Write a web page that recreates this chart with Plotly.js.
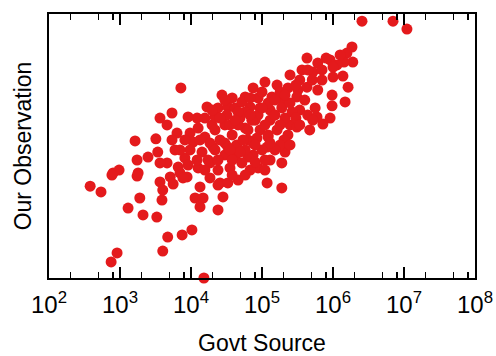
<!DOCTYPE html>
<html>
<head>
<meta charset="utf-8">
<script src="https://cdn.plot.ly/plotly-3.0.1.min.js"></script>
<style>html,body{margin:0;padding:0;background:#fff;}#chart{width:496px;height:356px;}</style>
</head>
<body>
<div id="chart"></div>
<script>
// Govt Source (x, log scale) vs Our Observation (y, arbitrary units 0-100)
const govtSource = [
  2.56e6, 7.0e6, 8.8e6, 1.1e7, 1.85e6, 1.57e6, 1.9e6, 1.43e6, 1.14e6, 9.1e5,
  1.0e6, 8.0e5, 6.1e5, 4.3e5, 5.2e5, 3.66e5, 2.48e5, 4.4e5, 7.0e5, 1.0e6,
  1.38e6, 1.63e6, 1.48e6, 9.7e5, 9.7e5, 9.1e5, 7.2e5, 1.1e5, 1.63e5, 2.32e5,
  7.5e4, 3.2e5, 4.3e5, 8.8e4, 1.38e5, 1.98e5, 3.1e5, 4.0e5, 9.4e4, 1.3e5,
  1.9e5, 3.4e5, 4.4e5, 5.95e5, 5.2e5, 8.0e4, 1.3e5, 2.48e5, 3.1e5, 9.4e4,
  1.63e5, 1.22e5, 8.5e4, 2.32e5, 1.18e5, 7.5e4, 2.11e5, 1.3e5, 1.9e5, 8.8e4,
  1.18e5, 1.9e5, 7.5e4, 2.04e5, 7.2e3, 5.8e4, 3.8e4, 2.4e4, 1.68e4, 3.3e4,
  6.8e4, 1.22e4, 9.1e3, 5.4e3, 3.66e3, 4.6e3, 6.35e3, 9.7e3, 1.07e4, 1.57e4,
  1.98e4, 2.18e4, 3.2e4, 4.9e4, 5.8e4, 5.4e3, 5.95e3, 8.2e3, 1.43e4, 2.04e4,
  2.56e4, 3.8e4, 4.4e4, 6.35e4, 3.0e4, 4.2e4, 6.35e4, 4.6e3, 6.6e3, 1.26e4,
  1.74e4, 2.4e4, 3.54e4, 5.2e4, 6.8e4, 5.1e3, 8.8e3, 1.63e3, 3.2e3, 1.74e3,
  2.48e3, 3.4e3, 8.0e2, 9.7e2, 1.8e3, 3.66e3, 3.0e4, 5.8e4, 1.22e5, 1.85e4,
  7.0e3, 1.34e4, 2.56e4, 3.3e4, 4.6e4, 1.14e4, 1.48e4, 2.82e4, 2.4e4, 3.8e2,
  5.4e2, 7.7e2, 1.74e3, 1.9e3, 1.3e3, 2.11e3, 3.3e3, 3.9e3, 4.0e3, 3.66e3,
  5.6e3, 7.7e3, 4.7e3, 7.5e3, 1.03e4, 4.0e3, 9.1e2, 7.5e2, 1.52e4, 2.4e4,
  1.34e4, 2.18e4, 3.0e4, 4.6e4, 5.8e4, 8.8e4, 4.2e4, 5.2e4, 1.1e5, 1.52e5,
  2.11e5, 2.65e5, 1.8e5, 1.0e5, 1.52e5, 4.9e4, 3.3e4, 1.26e4, 8.2e3, 1.85e4,
  2.4e4, 8.0e4, 2.48e5, 3.0e5, 5.6e5, 3.4e5, 1.8e5, 1.0e5, 6.8e4, 1.22e5,
  2.48e5, 3.54e4, 2.56e4, 1.57e4, 9.7e3, 1.22e4, 3.8e4, 5.8e4, 1.85e4, 6.35e4,
  2.73e4, 4.6e4, 7.2e4, 1.0e5, 1.52e5, 2.11e5, 3.0e5, 5.1e5, 6.1e5, 7.0e5,
  1.26e6, 3.54e4, 8.0e4, 1.1e5, 5.4e4, 3.8e4, 1.57e4, 2.18e4, 9.1e3, 7.0e3,
  1.34e4, 1.98e4, 3.0e4, 1.8e5, 3.4e5, 4.7e5, 1.1e5, 1.3e5, 6.8e4, 4.2e4
];
const ourObservation = [
  97.3, 97.3, 100.4, 94.3, 87.5, 85.2, 81.8, 81.8, 80.7, 82.6,
  79.9, 83.3, 81.4, 83.3, 78.0, 78.8, 76.9, 78.8, 75.0, 76.1,
  76.5, 72.3, 66.7, 69.3, 65.2, 60.6, 58.3, 74.2, 73.1, 72.0,
  72.0, 71.2, 72.3, 68.2, 68.6, 67.4, 68.6, 67.4, 64.4, 63.6,
  64.4, 63.6, 61.7, 61.0, 59.8, 59.8, 59.8, 58.0, 57.2, 56.1,
  56.1, 53.4, 53.0, 54.2, 49.6, 46.6, 47.7, 44.7, 43.6, 41.7,
  36.0, 34.1, 51.1, 52.3, 72.0, 68.6, 68.2, 64.4, 64.8, 64.8,
  64.8, 60.6, 61.0, 62.5, 60.6, 58.0, 54.9, 54.9, 51.5, 53.4,
  58.0, 61.0, 61.7, 60.6, 56.8, 52.3, 48.5, 45.5, 47.7, 49.6,
  52.3, 54.2, 50.4, 52.3, 46.6, 45.8, 45.8, 43.6, 42.0, 41.7,
  44.7, 40.9, 41.7, 43.6, 40.9, 38.3, 38.3, 51.9, 52.7, 44.7,
  45.8, 47.7, 39.8, 40.9, 39.8, 43.6, 51.1, 48.5, 54.2, 43.6,
  39.8, 34.5, 36.0, 36.0, 37.1, 30.3, 30.3, 30.7, 25.8, 34.8,
  32.6, 39.0, 38.6, 30.3, 26.5, 23.9, 23.1, 29.5, 33.3, 36.4,
  35.6, 37.9, 15.5, 16.3, 18.2, 10.2, 9.5, 6.1, 0.0, 35.2,
  26.9, 56.1, 58.0, 58.0, 62.9, 61.7, 64.4, 66.7, 58.0, 61.7,
  60.6, 62.9, 50.4, 48.5, 48.5, 47.7, 49.6, 56.8, 52.3, 51.1,
  44.7, 43.9, 50.4, 60.6, 64.4, 75.0, 70.5, 70.5, 68.2, 66.3,
  66.3, 58.0, 60.6, 60.6, 48.5, 44.7, 39.0, 39.0, 37.9, 56.1,
  69.3, 62.9, 59.8, 64.4, 67.4, 69.3, 73.1, 75.0, 71.2, 78.8,
  84.5, 48.5, 50.4, 44.7, 52.3, 44.7, 40.9, 48.5, 42.8, 48.5,
  52.3, 63.6, 67.4, 58.0, 58.0, 56.1, 40.9, 51.1, 61.7, 59.8
];
const xTickVals = [1e2, 1e3, 1e4, 1e5, 1e6, 1e7, 1e8];
const xTickText = ['10<sup>2</sup>', '10<sup>3</sup>', '10<sup>4</sup>', '10<sup>5</sup>', '10<sup>6</sup>', '10<sup>7</sup>', '10<sup>8</sup>'];
const minorMultipliers = [2, 5, 8];

const minorVals = [];
for (let k = 2; k < 8; k++) {
  minorMultipliers.forEach(m => minorVals.push(m * Math.pow(10, k)));
}

const font = 'Liberation Sans, Arial, Helvetica, sans-serif';

Plotly.newPlot('chart', [{
  type: 'scatter',
  mode: 'markers',
  x: govtSource,
  y: ourObservation,
  cliponaxis: false,
  marker: {color: '#e41a1c', size: 11},
  hoverinfo: 'none'
}], {
  width: 496, height: 356,
  margin: {l: 49, r: 21, t: 14, b: 78},
  paper_bgcolor: '#fff', plot_bgcolor: '#fff',
  showlegend: false,
  font: {family: font, color: '#000', size: 24},
  xaxis: {
    type: 'log',
    range: [2, 8],
    tickmode: 'array',
    tickvals: xTickVals,
    ticktext: xTickText,
    ticks: 'inside', ticklen: 11, tickwidth: 2, tickcolor: '#000',
    ticklabelstandoff: 4,
    minor: {tickmode: 'array', tickvals: minorVals, ticks: 'inside', ticklen: 6, tickwidth: 1.5, tickcolor: '#000'},
    showline: true, linewidth: 2, linecolor: '#000', mirror: 'allticks',
    showgrid: false, zeroline: false,
    tickfont: {family: font, size: 24, color: '#000'},
    title: {text: 'Govt Source', font: {family: font, size: 23, color: '#000'}, standoff: 22}
  },
  yaxis: {
    range: [0, 100],
    showticklabels: false,
    ticks: '',
    showline: true, linewidth: 2, linecolor: '#000', mirror: true,
    showgrid: false, zeroline: false,
    title: {text: 'Our Observation', font: {family: font, size: 23, color: '#000'}, standoff: 9}
  }
}, {displayModeBar: false, staticPlot: true});
</script>
</body>
</html>
